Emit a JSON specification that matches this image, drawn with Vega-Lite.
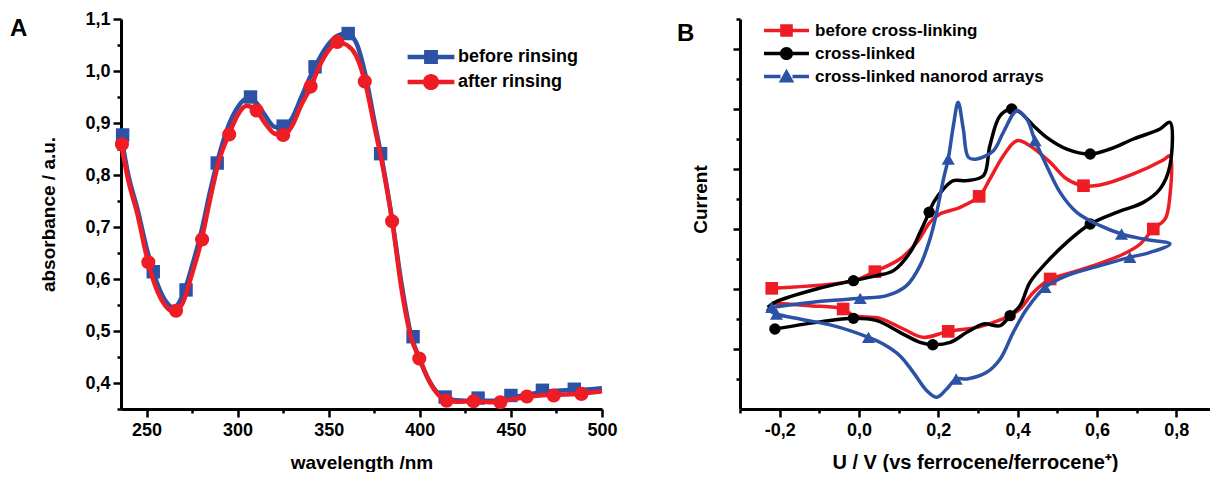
{
  "$schema": "https://vega.github.io/schema/vega-lite/v6.json",
  "background": "white",
  "padding": {"left": 10, "top": 10, "right": 0, "bottom": 0},
  "spacing": 138,
  "bounds": "flush",
  "resolve": {"scale": {"color": "independent"}, "legend": {"color": "independent"}},
  "config": {
    "font": "Liberation Sans",
    "view": {"stroke": null},
    "axis": {
      "domainColor": "black", "domainWidth": 3, "tickColor": "black", "tickWidth": 2.5,
      "labelFont": "Liberation Sans", "labelFontWeight": "bold", "labelFontSize": 18, "labelColor": "black",
      "titleFont": "Liberation Sans", "titleFontWeight": "bold", "titleFontSize": 19, "titleColor": "black",
      "grid": false, "labelOverlap": false, "labelFlush": false
    },
    "title": {"font": "Liberation Sans", "fontWeight": "bold", "fontSize": 24, "color": "black", "anchor": "start", "frame": "group"}
  },
  "datasets": {
    "aLine": [
      {"s": "before rinsing", "x": 236, "y": 0.877}, {"s": "before rinsing", "x": 240, "y": 0.8}, {"s": "before rinsing", "x": 245, "y": 0.735}, {"s": "before rinsing", "x": 250, "y": 0.66}, {"s": "before rinsing", "x": 255, "y": 0.6}, {"s": "before rinsing", "x": 260, "y": 0.56}, {"s": "before rinsing", "x": 265, "y": 0.545}, {"s": "before rinsing", "x": 270, "y": 0.57}, {"s": "before rinsing", "x": 275, "y": 0.625}, {"s": "before rinsing", "x": 280, "y": 0.69}, {"s": "before rinsing", "x": 285, "y": 0.77}, {"s": "before rinsing", "x": 290, "y": 0.84}, {"s": "before rinsing", "x": 295, "y": 0.895}, {"s": "before rinsing", "x": 300, "y": 0.93}, {"s": "before rinsing", "x": 305, "y": 0.947}, {"s": "before rinsing", "x": 310, "y": 0.94}, {"s": "before rinsing", "x": 315, "y": 0.915}, {"s": "before rinsing", "x": 320, "y": 0.893}, {"s": "before rinsing", "x": 325, "y": 0.89}, {"s": "before rinsing", "x": 330, "y": 0.91}, {"s": "before rinsing", "x": 335, "y": 0.95}, {"s": "before rinsing", "x": 340, "y": 0.99}, {"s": "before rinsing", "x": 345, "y": 1.025}, {"s": "before rinsing", "x": 350, "y": 1.052}, {"s": "before rinsing", "x": 355, "y": 1.068}, {"s": "before rinsing", "x": 360, "y": 1.072}, {"s": "before rinsing", "x": 365, "y": 1.055}, {"s": "before rinsing", "x": 370, "y": 0.995}, {"s": "before rinsing", "x": 375, "y": 0.905}, {"s": "before rinsing", "x": 380, "y": 0.815}, {"s": "before rinsing", "x": 385, "y": 0.71}, {"s": "before rinsing", "x": 390, "y": 0.59}, {"s": "before rinsing", "x": 395, "y": 0.495}, {"s": "before rinsing", "x": 400, "y": 0.445}, {"s": "before rinsing", "x": 405, "y": 0.405}, {"s": "before rinsing", "x": 410, "y": 0.38}, {"s": "before rinsing", "x": 415, "y": 0.37}, {"s": "before rinsing", "x": 420, "y": 0.367}, {"s": "before rinsing", "x": 430, "y": 0.366}, {"s": "before rinsing", "x": 440, "y": 0.366}, {"s": "before rinsing", "x": 450, "y": 0.372}, {"s": "before rinsing", "x": 460, "y": 0.378}, {"s": "before rinsing", "x": 470, "y": 0.384}, {"s": "before rinsing", "x": 480, "y": 0.386}, {"s": "before rinsing", "x": 490, "y": 0.387}, {"s": "before rinsing", "x": 500, "y": 0.39},
      {"s": "after rinsing", "x": 236, "y": 0.862}, {"s": "after rinsing", "x": 240, "y": 0.79}, {"s": "after rinsing", "x": 245, "y": 0.725}, {"s": "after rinsing", "x": 250, "y": 0.645}, {"s": "after rinsing", "x": 255, "y": 0.585}, {"s": "after rinsing", "x": 260, "y": 0.55}, {"s": "after rinsing", "x": 265, "y": 0.537}, {"s": "after rinsing", "x": 270, "y": 0.555}, {"s": "after rinsing", "x": 275, "y": 0.61}, {"s": "after rinsing", "x": 280, "y": 0.672}, {"s": "after rinsing", "x": 285, "y": 0.755}, {"s": "after rinsing", "x": 290, "y": 0.83}, {"s": "after rinsing", "x": 295, "y": 0.876}, {"s": "after rinsing", "x": 300, "y": 0.915}, {"s": "after rinsing", "x": 305, "y": 0.933}, {"s": "after rinsing", "x": 310, "y": 0.925}, {"s": "after rinsing", "x": 315, "y": 0.9}, {"s": "after rinsing", "x": 320, "y": 0.88}, {"s": "after rinsing", "x": 325, "y": 0.876}, {"s": "after rinsing", "x": 330, "y": 0.895}, {"s": "after rinsing", "x": 335, "y": 0.935}, {"s": "after rinsing", "x": 340, "y": 0.968}, {"s": "after rinsing", "x": 345, "y": 1.01}, {"s": "after rinsing", "x": 350, "y": 1.04}, {"s": "after rinsing", "x": 355, "y": 1.056}, {"s": "after rinsing", "x": 360, "y": 1.05}, {"s": "after rinsing", "x": 365, "y": 1.03}, {"s": "after rinsing", "x": 370, "y": 0.978}, {"s": "after rinsing", "x": 375, "y": 0.895}, {"s": "after rinsing", "x": 380, "y": 0.81}, {"s": "after rinsing", "x": 385, "y": 0.708}, {"s": "after rinsing", "x": 390, "y": 0.58}, {"s": "after rinsing", "x": 395, "y": 0.49}, {"s": "after rinsing", "x": 400, "y": 0.446}, {"s": "after rinsing", "x": 405, "y": 0.405}, {"s": "after rinsing", "x": 410, "y": 0.378}, {"s": "after rinsing", "x": 415, "y": 0.366}, {"s": "after rinsing", "x": 420, "y": 0.364}, {"s": "after rinsing", "x": 430, "y": 0.365}, {"s": "after rinsing", "x": 440, "y": 0.363}, {"s": "after rinsing", "x": 450, "y": 0.368}, {"s": "after rinsing", "x": 460, "y": 0.374}, {"s": "after rinsing", "x": 470, "y": 0.377}, {"s": "after rinsing", "x": 480, "y": 0.378}, {"s": "after rinsing", "x": 490, "y": 0.38}, {"s": "after rinsing", "x": 500, "y": 0.384}
    ],
    "aMark": [
      {"s": "before rinsing", "x": 236.9, "y": 0.877}, {"s": "before rinsing", "x": 253.7, "y": 0.614}, {"s": "before rinsing", "x": 271.7, "y": 0.579}, {"s": "before rinsing", "x": 288.8, "y": 0.823}, {"s": "before rinsing", "x": 307.1, "y": 0.95}, {"s": "before rinsing", "x": 325, "y": 0.894}, {"s": "before rinsing", "x": 342.5, "y": 1.008}, {"s": "before rinsing", "x": 360.7, "y": 1.072}, {"s": "before rinsing", "x": 378.5, "y": 0.841}, {"s": "before rinsing", "x": 396.3, "y": 0.489}, {"s": "before rinsing", "x": 413.9, "y": 0.373}, {"s": "before rinsing", "x": 432, "y": 0.371}, {"s": "before rinsing", "x": 450, "y": 0.376}, {"s": "before rinsing", "x": 467.3, "y": 0.386}, {"s": "before rinsing", "x": 484.8, "y": 0.388},
      {"s": "after rinsing", "x": 236.5, "y": 0.859}, {"s": "after rinsing", "x": 251, "y": 0.632}, {"s": "after rinsing", "x": 266.2, "y": 0.539}, {"s": "after rinsing", "x": 280.5, "y": 0.676}, {"s": "after rinsing", "x": 295.4, "y": 0.878}, {"s": "after rinsing", "x": 310.4, "y": 0.924}, {"s": "after rinsing", "x": 325, "y": 0.877}, {"s": "after rinsing", "x": 340.1, "y": 0.97}, {"s": "after rinsing", "x": 354.7, "y": 1.056}, {"s": "after rinsing", "x": 369.8, "y": 0.98}, {"s": "after rinsing", "x": 384.8, "y": 0.711}, {"s": "after rinsing", "x": 399.7, "y": 0.447}, {"s": "after rinsing", "x": 414.7, "y": 0.366}, {"s": "after rinsing", "x": 429.5, "y": 0.365}, {"s": "after rinsing", "x": 444.2, "y": 0.363}, {"s": "after rinsing", "x": 458.8, "y": 0.374}, {"s": "after rinsing", "x": 473.5, "y": 0.376}, {"s": "after rinsing", "x": 488.7, "y": 0.379}
    ],
    "bLine": [
      {"s": "before cross-linking", "i": 1, "x": -0.22, "y": 2.011, "m": 1}, {"s": "before cross-linking", "i": 2, "x": -0.014, "y": 2.139, "m": 0}, {"s": "before cross-linking", "i": 3, "x": 0.04, "y": 2.289, "m": 1}, {"s": "before cross-linking", "i": 4, "x": 0.103, "y": 2.5, "m": 0}, {"s": "before cross-linking", "i": 5, "x": 0.146, "y": 2.778, "m": 0}, {"s": "before cross-linking", "i": 6, "x": 0.179, "y": 3.111, "m": 0}, {"s": "before cross-linking", "i": 7, "x": 0.204, "y": 3.25, "m": 0}, {"s": "before cross-linking", "i": 8, "x": 0.255, "y": 3.361, "m": 0}, {"s": "before cross-linking", "i": 9, "x": 0.303, "y": 3.544, "m": 1}, {"s": "before cross-linking", "i": 10, "x": 0.33, "y": 3.833, "m": 0}, {"s": "before cross-linking", "i": 11, "x": 0.364, "y": 4.222, "m": 0}, {"s": "before cross-linking", "i": 12, "x": 0.398, "y": 4.472, "m": 0}, {"s": "before cross-linking", "i": 13, "x": 0.431, "y": 4.389, "m": 0}, {"s": "before cross-linking", "i": 14, "x": 0.482, "y": 4.111, "m": 0}, {"s": "before cross-linking", "i": 15, "x": 0.524, "y": 3.833, "m": 0}, {"s": "before cross-linking", "i": 16, "x": 0.566, "y": 3.722, "m": 1}, {"s": "before cross-linking", "i": 17, "x": 0.608, "y": 3.733, "m": 0}, {"s": "before cross-linking", "i": 18, "x": 0.692, "y": 3.917, "m": 0}, {"s": "before cross-linking", "i": 19, "x": 0.767, "y": 4.15, "m": 0}, {"s": "before cross-linking", "i": 20, "x": 0.784, "y": 4.22, "m": 0}, {"s": "before cross-linking", "i": 21, "x": 0.784, "y": 3.556, "m": 0}, {"s": "before cross-linking", "i": 22, "x": 0.772, "y": 3.167, "m": 0}, {"s": "before cross-linking", "i": 23, "x": 0.742, "y": 3.0, "m": 1}, {"s": "before cross-linking", "i": 24, "x": 0.709, "y": 2.75, "m": 0}, {"s": "before cross-linking", "i": 25, "x": 0.667, "y": 2.583, "m": 0}, {"s": "before cross-linking", "i": 26, "x": 0.591, "y": 2.389, "m": 0}, {"s": "before cross-linking", "i": 27, "x": 0.524, "y": 2.25, "m": 0}, {"s": "before cross-linking", "i": 28, "x": 0.482, "y": 2.167, "m": 1}, {"s": "before cross-linking", "i": 29, "x": 0.44, "y": 1.944, "m": 0}, {"s": "before cross-linking", "i": 30, "x": 0.406, "y": 1.667, "m": 0}, {"s": "before cross-linking", "i": 31, "x": 0.381, "y": 1.556, "m": 0}, {"s": "before cross-linking", "i": 32, "x": 0.339, "y": 1.444, "m": 0}, {"s": "before cross-linking", "i": 33, "x": 0.297, "y": 1.361, "m": 0}, {"s": "before cross-linking", "i": 34, "x": 0.225, "y": 1.294, "m": 1}, {"s": "before cross-linking", "i": 35, "x": 0.162, "y": 1.194, "m": 0}, {"s": "before cross-linking", "i": 36, "x": 0.112, "y": 1.333, "m": 0}, {"s": "before cross-linking", "i": 37, "x": 0.053, "y": 1.511, "m": 0}, {"s": "before cross-linking", "i": 38, "x": -0.014, "y": 1.556, "m": 0}, {"s": "before cross-linking", "i": 39, "x": -0.04, "y": 1.667, "m": 1}, {"s": "before cross-linking", "i": 40, "x": -0.124, "y": 1.722, "m": 0}, {"s": "before cross-linking", "i": 41, "x": -0.22, "y": 1.767, "m": 0},
      {"s": "cross-linked", "i": 1, "x": -0.212, "y": 1.333, "m": 1}, {"s": "cross-linked", "i": 2, "x": -0.107, "y": 1.444, "m": 0}, {"s": "cross-linked", "i": 3, "x": -0.014, "y": 1.511, "m": 1}, {"s": "cross-linked", "i": 4, "x": 0.045, "y": 1.472, "m": 0}, {"s": "cross-linked", "i": 5, "x": 0.103, "y": 1.278, "m": 0}, {"s": "cross-linked", "i": 6, "x": 0.154, "y": 1.111, "m": 0}, {"s": "cross-linked", "i": 7, "x": 0.186, "y": 1.072, "m": 1}, {"s": "cross-linked", "i": 8, "x": 0.23, "y": 1.111, "m": 0}, {"s": "cross-linked", "i": 9, "x": 0.272, "y": 1.278, "m": 0}, {"s": "cross-linked", "i": 10, "x": 0.314, "y": 1.417, "m": 0}, {"s": "cross-linked", "i": 11, "x": 0.356, "y": 1.389, "m": 0}, {"s": "cross-linked", "i": 12, "x": 0.381, "y": 1.556, "m": 1}, {"s": "cross-linked", "i": 13, "x": 0.406, "y": 1.722, "m": 0}, {"s": "cross-linked", "i": 14, "x": 0.431, "y": 2.111, "m": 0}, {"s": "cross-linked", "i": 15, "x": 0.473, "y": 2.444, "m": 0}, {"s": "cross-linked", "i": 16, "x": 0.524, "y": 2.778, "m": 0}, {"s": "cross-linked", "i": 17, "x": 0.583, "y": 3.083, "m": 1}, {"s": "cross-linked", "i": 18, "x": 0.65, "y": 3.278, "m": 0}, {"s": "cross-linked", "i": 19, "x": 0.717, "y": 3.444, "m": 0}, {"s": "cross-linked", "i": 20, "x": 0.759, "y": 3.667, "m": 0}, {"s": "cross-linked", "i": 21, "x": 0.784, "y": 4.056, "m": 0}, {"s": "cross-linked", "i": 22, "x": 0.784, "y": 4.778, "m": 0}, {"s": "cross-linked", "i": 23, "x": 0.759, "y": 4.667, "m": 0}, {"s": "cross-linked", "i": 24, "x": 0.692, "y": 4.5, "m": 0}, {"s": "cross-linked", "i": 25, "x": 0.633, "y": 4.333, "m": 0}, {"s": "cross-linked", "i": 26, "x": 0.583, "y": 4.25, "m": 1}, {"s": "cross-linked", "i": 27, "x": 0.524, "y": 4.333, "m": 0}, {"s": "cross-linked", "i": 28, "x": 0.473, "y": 4.528, "m": 0}, {"s": "cross-linked", "i": 29, "x": 0.44, "y": 4.722, "m": 0}, {"s": "cross-linked", "i": 30, "x": 0.406, "y": 4.944, "m": 0}, {"s": "cross-linked", "i": 31, "x": 0.385, "y": 5.0, "m": 1}, {"s": "cross-linked", "i": 32, "x": 0.356, "y": 4.889, "m": 0}, {"s": "cross-linked", "i": 33, "x": 0.33, "y": 4.389, "m": 0}, {"s": "cross-linked", "i": 34, "x": 0.314, "y": 3.889, "m": 0}, {"s": "cross-linked", "i": 35, "x": 0.272, "y": 3.806, "m": 0}, {"s": "cross-linked", "i": 36, "x": 0.238, "y": 3.806, "m": 0}, {"s": "cross-linked", "i": 37, "x": 0.213, "y": 3.667, "m": 0}, {"s": "cross-linked", "i": 38, "x": 0.188, "y": 3.444, "m": 0}, {"s": "cross-linked", "i": 39, "x": 0.177, "y": 3.278, "m": 1}, {"s": "cross-linked", "i": 40, "x": 0.154, "y": 2.944, "m": 0}, {"s": "cross-linked", "i": 41, "x": 0.129, "y": 2.611, "m": 0}, {"s": "cross-linked", "i": 42, "x": 0.087, "y": 2.306, "m": 0}, {"s": "cross-linked", "i": 43, "x": 0.045, "y": 2.222, "m": 0}, {"s": "cross-linked", "i": 44, "x": -0.014, "y": 2.139, "m": 1}, {"s": "cross-linked", "i": 45, "x": -0.107, "y": 2.0, "m": 0}, {"s": "cross-linked", "i": 46, "x": -0.212, "y": 1.778, "m": 0}, {"s": "cross-linked", "i": 47, "x": -0.23, "y": 1.69, "m": 0},
      {"s": "cross-linked nanorod arrays", "i": 1, "x": -0.22, "y": 1.694, "m": 1}, {"s": "cross-linked nanorod arrays", "i": 2, "x": -0.107, "y": 1.789, "m": 0}, {"s": "cross-linked nanorod arrays", "i": 3, "x": 0.003, "y": 1.844, "m": 1}, {"s": "cross-linked nanorod arrays", "i": 4, "x": 0.07, "y": 1.889, "m": 0}, {"s": "cross-linked nanorod arrays", "i": 5, "x": 0.12, "y": 2.056, "m": 0}, {"s": "cross-linked nanorod arrays", "i": 6, "x": 0.154, "y": 2.389, "m": 0}, {"s": "cross-linked nanorod arrays", "i": 7, "x": 0.179, "y": 2.833, "m": 0}, {"s": "cross-linked nanorod arrays", "i": 8, "x": 0.196, "y": 3.278, "m": 0}, {"s": "cross-linked nanorod arrays", "i": 9, "x": 0.213, "y": 3.833, "m": 0}, {"s": "cross-linked nanorod arrays", "i": 10, "x": 0.225, "y": 4.167, "m": 1}, {"s": "cross-linked nanorod arrays", "i": 11, "x": 0.238, "y": 4.722, "m": 0}, {"s": "cross-linked nanorod arrays", "i": 12, "x": 0.25, "y": 5.111, "m": 0}, {"s": "cross-linked nanorod arrays", "i": 13, "x": 0.263, "y": 4.667, "m": 0}, {"s": "cross-linked nanorod arrays", "i": 14, "x": 0.276, "y": 4.194, "m": 0}, {"s": "cross-linked nanorod arrays", "i": 15, "x": 0.297, "y": 4.167, "m": 0}, {"s": "cross-linked nanorod arrays", "i": 16, "x": 0.339, "y": 4.306, "m": 0}, {"s": "cross-linked nanorod arrays", "i": 17, "x": 0.364, "y": 4.611, "m": 0}, {"s": "cross-linked nanorod arrays", "i": 18, "x": 0.398, "y": 4.972, "m": 0}, {"s": "cross-linked nanorod arrays", "i": 19, "x": 0.423, "y": 4.833, "m": 0}, {"s": "cross-linked nanorod arrays", "i": 20, "x": 0.444, "y": 4.472, "m": 1}, {"s": "cross-linked nanorod arrays", "i": 21, "x": 0.473, "y": 4.056, "m": 0}, {"s": "cross-linked nanorod arrays", "i": 22, "x": 0.507, "y": 3.611, "m": 0}, {"s": "cross-linked nanorod arrays", "i": 23, "x": 0.549, "y": 3.278, "m": 0}, {"s": "cross-linked nanorod arrays", "i": 24, "x": 0.608, "y": 3.056, "m": 0}, {"s": "cross-linked nanorod arrays", "i": 25, "x": 0.662, "y": 2.917, "m": 1}, {"s": "cross-linked nanorod arrays", "i": 26, "x": 0.717, "y": 2.833, "m": 0}, {"s": "cross-linked nanorod arrays", "i": 27, "x": 0.784, "y": 2.75, "m": 0}, {"s": "cross-linked nanorod arrays", "i": 28, "x": 0.734, "y": 2.611, "m": 0}, {"s": "cross-linked nanorod arrays", "i": 29, "x": 0.683, "y": 2.528, "m": 1}, {"s": "cross-linked nanorod arrays", "i": 30, "x": 0.608, "y": 2.389, "m": 0}, {"s": "cross-linked nanorod arrays", "i": 31, "x": 0.524, "y": 2.222, "m": 0}, {"s": "cross-linked nanorod arrays", "i": 32, "x": 0.469, "y": 2.028, "m": 1}, {"s": "cross-linked nanorod arrays", "i": 33, "x": 0.423, "y": 1.667, "m": 0}, {"s": "cross-linked nanorod arrays", "i": 34, "x": 0.389, "y": 1.278, "m": 0}, {"s": "cross-linked nanorod arrays", "i": 35, "x": 0.356, "y": 0.833, "m": 0}, {"s": "cross-linked nanorod arrays", "i": 36, "x": 0.322, "y": 0.611, "m": 0}, {"s": "cross-linked nanorod arrays", "i": 37, "x": 0.272, "y": 0.5, "m": 0}, {"s": "cross-linked nanorod arrays", "i": 38, "x": 0.245, "y": 0.5, "m": 1}, {"s": "cross-linked nanorod arrays", "i": 39, "x": 0.221, "y": 0.333, "m": 0}, {"s": "cross-linked nanorod arrays", "i": 40, "x": 0.196, "y": 0.194, "m": 0}, {"s": "cross-linked nanorod arrays", "i": 41, "x": 0.171, "y": 0.306, "m": 0}, {"s": "cross-linked nanorod arrays", "i": 42, "x": 0.137, "y": 0.611, "m": 0}, {"s": "cross-linked nanorod arrays", "i": 43, "x": 0.103, "y": 0.889, "m": 0}, {"s": "cross-linked nanorod arrays", "i": 44, "x": 0.061, "y": 1.083, "m": 0}, {"s": "cross-linked nanorod arrays", "i": 45, "x": 0.024, "y": 1.194, "m": 1}, {"s": "cross-linked nanorod arrays", "i": 46, "x": -0.065, "y": 1.389, "m": 0}, {"s": "cross-linked nanorod arrays", "i": 47, "x": -0.149, "y": 1.5, "m": 0}, {"s": "cross-linked nanorod arrays", "i": 48, "x": -0.208, "y": 1.583, "m": 1}, {"s": "cross-linked nanorod arrays", "i": 49, "x": -0.233, "y": 1.667, "m": 0}
    ]
  },
  "hconcat": [
    {
      "width": 481,
      "height": 390,
      "title": {"text": "A", "dx": -111, "dy": 35},
      "encoding": {
        "x": {"field": "x", "type": "quantitative", "scale": {"domain": [236, 500], "nice": false, "zero": false},
          "axis": {"title": "wavelength /nm", "values": [250, 275, 300, 325, 350, 375, 400, 425, 450, 475, 500],
            "labelExpr": "datum.value % 50 === 0 ? datum.label : ''",
            "tickSize": {"condition": {"test": "datum.value % 50 === 0", "value": 8}, "value": 4},
            "labelPadding": 4, "titlePadding": 14}},
        "y": {"field": "y", "type": "quantitative", "scale": {"domain": [0.35, 1.1], "nice": false, "zero": false},
          "axis": {"title": "absorbance / a.u.", "values": [0.35, 0.4, 0.45, 0.5, 0.55, 0.6, 0.65, 0.7, 0.75, 0.8, 0.85, 0.9, 0.95, 1.0, 1.05, 1.1],
            "labelExpr": "round(datum.value * 100) % 10 === 0 ? replace(format(datum.value, '.1f'), '.', ',') : ''",
            "tickSize": {"condition": {"test": "round(datum.value * 100) % 10 === 0", "value": 8}, "value": 4},
            "labelPadding": 3, "titlePadding": 26}},
        "color": {"field": "s", "type": "nominal",
          "scale": {"domain": ["before rinsing", "after rinsing"], "range": ["#2b52a5", "#ee1c25"]},
          "legend": {"orient": "none", "legendX": 301, "legendY": 29, "title": null, "padding": 0,
            "symbolSize": 144, "labelOffset": 18, "rowPadding": 7, "labelLimit": 0,
            "labelFont": "Liberation Sans", "labelFontWeight": "bold", "labelFontSize": 18, "labelColor": "black",
            "encode": {"symbols": {"update": {
              "shape": {"signal": "datum.value === 'before rinsing' ? 'M-3.9,-0.38L-1,-0.38L-1,0.38L-3.9,0.38Z M1,-0.38L3.9,-0.38L3.9,0.38L1,0.38Z M-1.15,-1.15L1.15,-1.15L1.15,1.15L-1.15,1.15Z' : 'M-3.9,-0.38L-1,-0.38L-1,0.38L-3.9,0.38Z M1,-0.38L3.9,-0.38L3.9,0.38L1,0.38Z M-1.35,0A1.35,1.35,0,1,1,1.35,0A1.35,1.35,0,1,1,-1.35,0Z'"},
              "fill": {"signal": "datum.value === 'before rinsing' ? '#2b52a5' : '#ee1c25'"},
              "stroke": {"value": "transparent"}, "strokeWidth": {"value": 0}, "opacity": {"value": 1}, "fillOpacity": {"value": 1}}}}}}
      },
      "layer": [
        {"data": {"name": "aLine"}, "transform": [{"filter": "datum.s === 'before rinsing'"}],
          "mark": {"type": "line", "interpolate": "monotone", "strokeWidth": 4.5}},
        {"data": {"name": "aMark"}, "transform": [{"filter": "datum.s === 'before rinsing'"}],
          "mark": {"type": "point", "shape": "square", "filled": true, "size": 180, "opacity": 1}},
        {"data": {"name": "aLine"}, "transform": [{"filter": "datum.s === 'after rinsing'"}],
          "mark": {"type": "line", "interpolate": "monotone", "strokeWidth": 4.5}},
        {"data": {"name": "aMark"}, "transform": [{"filter": "datum.s === 'after rinsing'"}],
          "mark": {"type": "point", "shape": "circle", "filled": true, "size": 200, "opacity": 1}}
      ]
    },
    {
      "width": 470,
      "height": 390,
      "title": {"text": "B", "dx": -63, "dy": 32},
      "encoding": {
        "x": {"field": "x", "type": "quantitative", "scale": {"domain": [-0.3, 0.885], "nice": false, "zero": false},
          "axis": {"title": "U / V (vs ferrocene/ferrocene\u207a)", "titleFontSize": 20, "values": [-0.3, -0.2, -0.1, 0, 0.1, 0.2, 0.3, 0.4, 0.5, 0.6, 0.7, 0.8],
            "labelExpr": "round(datum.value * 10) % 2 === 0 ? replace(replace(format(datum.value, '.1f'), '.', ','), '\u2212', '-') : ''",
            "tickSize": {"condition": {"test": "round(datum.value * 10) % 2 === 0", "value": 8}, "value": 4},
            "labelPadding": 4, "titlePadding": 13}},
        "y": {"field": "y", "type": "quantitative", "scale": {"domain": [0, 6.5], "nice": false, "zero": false},
          "axis": {"title": "Current", "titleY": 180, "values": [0.5, 1, 1.5, 2, 2.5, 3, 3.5, 4, 4.5, 5, 5.5, 6, 6.5],
            "labels": false,
            "tickSize": {"condition": {"test": "round(datum.value * 2) % 2 === 0", "value": 7}, "value": 4},
            "titlePadding": 21}},
        "order": {"field": "i", "type": "quantitative"},
        "color": {"field": "s", "type": "nominal",
          "scale": {"domain": ["before cross-linking", "cross-linked", "cross-linked nanorod arrays"], "range": ["#ee1c25", "#000000", "#2b52a5"]},
          "legend": {"orient": "none", "legendX": 38, "legendY": 3, "title": null, "padding": 0,
            "symbolSize": 144, "labelOffset": 20, "rowPadding": 5, "labelLimit": 0,
            "labelFont": "Liberation Sans", "labelFontWeight": "bold", "labelFontSize": 17, "labelColor": "black",
            "encode": {"symbols": {"update": {
              "shape": {"signal": "datum.value === 'before cross-linking' ? 'M-3.75,-0.3L-1,-0.3L-1,0.3L-3.75,0.3Z M1,-0.3L3.75,-0.3L3.75,0.3L1,0.3Z M-1.05,-1.05L1.05,-1.05L1.05,1.05L-1.05,1.05Z' : (datum.value === 'cross-linked' ? 'M-3.75,-0.3L-1,-0.3L-1,0.3L-3.75,0.3Z M1,-0.3L3.75,-0.3L3.75,0.3L1,0.3Z M-1.1,0A1.1,1.1,0,1,1,1.1,0A1.1,1.1,0,1,1,-1.1,0Z' : 'M-3.75,-0.3L-1,-0.3L-1,0.3L-3.75,0.3Z M1,-0.3L3.75,-0.3L3.75,0.3L1,0.3Z M0,-1.3L1.3,1L-1.3,1Z')"},
              "fill": {"signal": "datum.value === 'before cross-linking' ? '#ee1c25' : (datum.value === 'cross-linked' ? '#000000' : '#2b52a5')"},
              "stroke": {"value": "transparent"}, "strokeWidth": {"value": 0}, "opacity": {"value": 1}, "fillOpacity": {"value": 1}}}}}}
      },
      "layer": [
        {"data": {"name": "bLine"}, "transform": [{"filter": "datum.s === 'before cross-linking'"}],
          "mark": {"type": "line", "interpolate": "catmull-rom", "strokeWidth": 3.5}},
        {"data": {"name": "bLine"}, "transform": [{"filter": "datum.s === 'before cross-linking' && datum.m === 1"}],
          "mark": {"type": "point", "shape": "square", "filled": true, "size": 160, "opacity": 1}},
        {"data": {"name": "bLine"}, "transform": [{"filter": "datum.s === 'cross-linked'"}],
          "mark": {"type": "line", "interpolate": "catmull-rom", "strokeWidth": 3.5}},
        {"data": {"name": "bLine"}, "transform": [{"filter": "datum.s === 'cross-linked' && datum.m === 1"}],
          "mark": {"type": "point", "shape": "circle", "filled": true, "size": 130, "opacity": 1}},
        {"data": {"name": "bLine"}, "transform": [{"filter": "datum.s === 'cross-linked nanorod arrays'"}],
          "mark": {"type": "line", "interpolate": "catmull-rom", "strokeWidth": 3.5}},
        {"data": {"name": "bLine"}, "transform": [{"filter": "datum.s === 'cross-linked nanorod arrays' && datum.m === 1"}],
          "mark": {"type": "point", "shape": "triangle-up", "filled": true, "size": 170, "opacity": 1}}
      ]
    }
  ]
}
